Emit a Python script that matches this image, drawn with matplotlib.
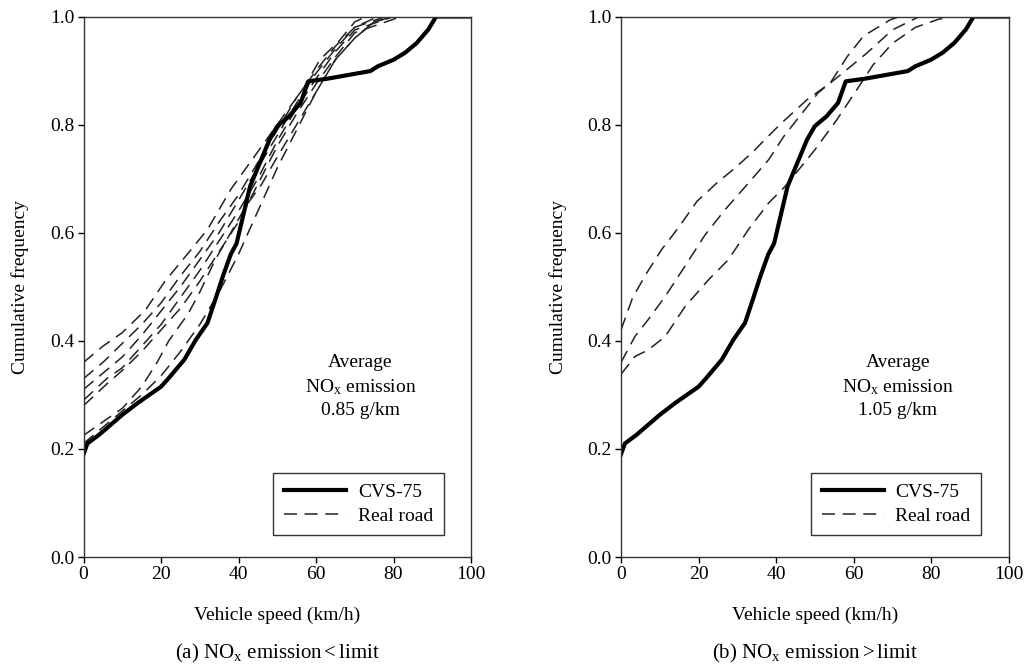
import numpy as np
import matplotlib
matplotlib.use('Agg')
import matplotlib.pyplot as plt
from matplotlib.lines import Line2D

plt.rcParams['font.family'] = ['Liberation Serif', 'DejaVu Serif']
plt.rcParams['mathtext.fontset'] = 'custom'
plt.rcParams['mathtext.rm'] = 'Liberation Serif'
plt.rcParams['mathtext.it'] = 'Liberation Serif:italic'

# CVS-75 cumulative speed distribution (same in both panels)
cvs_v = [0, 1, 4, 10, 14, 20, 22, 26, 29, 32, 34, 36, 38, 39.5, 43, 48, 50, 53, 56, 58,
         63, 74, 76, 80, 83, 86, 89, 91, 100]
cvs_f = [0.19, 0.21, 0.226, 0.263, 0.285, 0.315, 0.331, 0.365, 0.402, 0.433, 0.476, 0.52,
         0.56, 0.58, 0.686, 0.772, 0.797, 0.815, 0.84, 0.88, 0.885, 0.899, 0.908, 0.92,
         0.933, 0.951, 0.976, 1.0, 1.0]

# (a) real-road runs, NOx below limit
a_v = [
    [0, 5, 10, 16, 21, 27, 32, 38, 45, 50, 57, 61, 66, 70, 73, 100],
    [0, 5, 10, 15, 20, 25, 30, 35, 40, 45, 50, 55, 60, 65, 70, 76, 100],
    [0, 5, 10, 15, 20, 25, 30, 35, 40, 45, 50, 55, 60, 65, 70, 78, 100],
    [0, 3, 6, 10, 15, 20, 25, 30, 35, 40, 45, 50, 55, 60, 65, 70, 80, 100],
    [0, 3, 6, 10, 15, 20, 25, 30, 35, 40, 45, 50, 55, 60, 65, 70, 82, 100],
    [0, 5, 10, 15, 19, 22, 27, 30, 34, 38, 42, 46, 50, 55, 60, 65, 70, 75, 80, 100],
    [0, 5, 10, 15, 20, 25, 30, 35, 40, 45, 50, 55, 60, 65, 70, 75, 80, 100],
]
a_f = [
    [0.36, 0.39, 0.415, 0.457, 0.51, 0.562, 0.606, 0.68, 0.75, 0.80, 0.87, 0.92, 0.955, 0.99, 1.0, 1.0],
    [0.33, 0.36, 0.395, 0.43, 0.47, 0.52, 0.565, 0.62, 0.67, 0.73, 0.79, 0.85, 0.9, 0.945, 0.98, 1.0, 1.0],
    [0.31, 0.34, 0.37, 0.41, 0.455, 0.5, 0.55, 0.6, 0.66, 0.72, 0.78, 0.84, 0.895, 0.94, 0.98, 1.0, 1.0],
    [0.29, 0.31, 0.33, 0.35, 0.39, 0.43, 0.48, 0.53, 0.585, 0.64, 0.70, 0.77, 0.83, 0.885, 0.935, 0.975, 1.0, 1.0],
    [0.28, 0.30, 0.32, 0.345, 0.38, 0.42, 0.46, 0.51, 0.565, 0.62, 0.69, 0.76, 0.82, 0.875, 0.925, 0.97, 1.0, 1.0],
    [0.225, 0.25, 0.275, 0.315, 0.36, 0.40, 0.45, 0.49, 0.55, 0.60, 0.65, 0.69, 0.74, 0.80, 0.86, 0.92, 0.96, 0.99, 1.0, 1.0],
    [0.21, 0.24, 0.27, 0.30, 0.335, 0.38, 0.43, 0.49, 0.56, 0.64, 0.72, 0.79, 0.86, 0.92, 0.96, 0.99, 1.0, 1.0],
]

# (b) real-road runs, NOx above limit
b_v = [
    [0, 3, 6.6, 10.5, 14.8, 19.6, 25.2, 29.5, 33.8, 41, 48, 54, 58.4, 62.6, 69.5, 72, 100],
    [0, 3.6, 7, 11.4, 16.5, 21.7, 26.9, 32.9, 38.1, 42, 50.9, 57.3, 63.4, 70, 77, 100],
    [0, 3.6, 7, 11.4, 16.5, 22.6, 27.7, 32.9, 38.1, 42.4, 50.1, 55.7, 60.9, 65, 70, 76, 82, 86, 100],
]
b_f = [
    [0.42, 0.48, 0.525, 0.569, 0.609, 0.658, 0.695, 0.72, 0.748, 0.80, 0.846, 0.877, 0.926, 0.964, 0.994, 1.0, 1.0],
    [0.36, 0.408, 0.439, 0.482, 0.538, 0.596, 0.643, 0.692, 0.735, 0.778, 0.859, 0.896, 0.932, 0.975, 1.0, 1.0],
    [0.338, 0.371, 0.383, 0.408, 0.463, 0.513, 0.55, 0.606, 0.655, 0.686, 0.754, 0.809, 0.865, 0.91, 0.95, 0.98, 0.995, 1.0, 1.0],
]

captions = [r'(a) NO$_\mathrm{x}$ emission$<$limit', r'(b) NO$_\mathrm{x}$ emission$>$limit']
averages = ['0.85 g/km', '1.05 g/km']

fig = plt.figure(figsize=(10.31, 6.69), dpi=100)
W, H = 1031, 669
ax_a = fig.add_axes([83.5 / W, (H - 557) / H, 387.5 / W, 540.5 / H])
ax_b = fig.add_axes([621 / W, (H - 557) / H, 387.5 / W, 540.5 / H])

panels = [(ax_a, a_v, a_f), (ax_b, b_v, b_f)]
for i, (ax, vs, fs) in enumerate(panels):
    for v, f in zip(vs, fs):
        ax.plot(v, f, color='#222222', linewidth=1.1, dashes=(8.5, 5))
    ax.plot(cvs_v, cvs_f, color='black', linewidth=3.0, solid_joinstyle='round')

    ax.set_xlim(0, 100)
    ax.set_ylim(0, 1.0)
    ax.set_xticks([0, 20, 40, 60, 80, 100])
    ax.set_yticks([0.0, 0.2, 0.4, 0.6, 0.8, 1.0])
    ax.set_yticklabels(['0.0', '0.2', '0.4', '0.6', '0.8', '1.0'])
    ax.tick_params(direction='out', length=4, width=1, labelsize=14, pad=2.5)
    for s in ax.spines.values():
        s.set_linewidth(1.0)
        s.set_color('#333333')

    ax.set_xlabel('Vehicle speed (km/h)', fontsize=14, labelpad=17)
    ax.set_ylabel('Cumulative frequency', fontsize=14, labelpad=15)

    ax.text(71.5, 0.315, 'Average\nNO$_\\mathrm{x}$ emission\n' + averages[i],
            ha='center', va='center', fontsize=14, linespacing=1.42)

    handles = [Line2D([], [], color='black', linewidth=3.0),
               Line2D([], [], color='#222222', linewidth=1.1, dashes=(8.5, 5))]
    leg = ax.legend(handles, ['CVS-75', 'Real road'], loc='lower right',
                    bbox_to_anchor=(0.93, 0.04), borderaxespad=0, fontsize=14,
                    fancybox=False, framealpha=1, edgecolor='#333333',
                    handlelength=3.2, handletextpad=0.6, borderpad=0.55,
                    labelspacing=0.3)
    leg.get_frame().set_linewidth(1.0)

    ax.text(0.5, -0.178, captions[i], transform=ax.transAxes, ha='center',
            va='center', fontsize=15)

fig.savefig('out.png', dpi=100)
